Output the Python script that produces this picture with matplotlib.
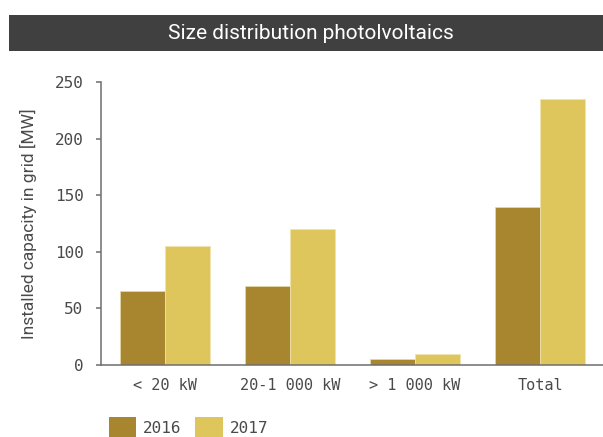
import matplotlib
matplotlib.use("Agg")
import matplotlib.pyplot as plt
from matplotlib.patches import Rectangle, Patch
import numpy as np

categories = ["< 20 kW", "20-1 000 kW", "> 1 000 kW", "Total"]
years = ["2016", "2017"]
values_2016 = [65, 70, 5, 140]
values_2017 = [105, 120, 10, 235]
yticks = [0, 50, 100, 150, 200, 250]

title = "Size distribution photolvoltaics"
ylabel = "Installed capacity in grid [MW]"

c2016 = "#a8862f"
c2017 = "#dec55c"
text_col = "#4a4a4a"
axis_col = "#6e6e6e"

W, H = 603, 437
fig = plt.figure(figsize=(W / 100, H / 100), dpi=100)

sans = ["Roboto", "DejaVu Sans"]
mono = ["DejaVu Sans Mono", "DejaVu Sans"]

# dark title band
fig.patches.append(Rectangle((9 / W, 1 - 50.7 / H), 1 - 9 / W, 35.7 / H,
                             transform=fig.transFigure, facecolor="#404040",
                             edgecolor="none", zorder=0))
fig.text(311 / W, 1 - 33.5 / H, title, color="white", ha="center",
         va="center", fontsize=15, family=sans)

ax = fig.add_axes([101 / W, (H - 365) / H, (W - 101) / W, (365 - 82) / H])

x = np.arange(len(categories))
bw = 0.36
ax.bar(x - bw / 2, values_2016, bw, color=c2016, edgecolor="#e9dca8",
       linewidth=0.5, label=years[0])
ax.bar(x + bw / 2, values_2017, bw, color=c2017, edgecolor="#efe3b0",
       linewidth=0.5, label=years[1])

ax.set_xlim(-0.512, 3.504)
ax.set_ylim(0, 250)
ax.set_yticks(yticks)
ax.set_xticks(x)
ax.set_xticklabels(categories, family=mono, fontsize=11, color=text_col)
for lab in ax.get_yticklabels():
    lab.set_family(mono)
    lab.set_fontsize(11.5)
    lab.set_color(text_col)

for s in ["top", "right"]:
    ax.spines[s].set_visible(False)
for s in ["left", "bottom"]:
    ax.spines[s].set_color(axis_col)
    ax.spines[s].set_linewidth(1.1)

ax.tick_params(axis="y", length=3.6, width=1.1, color=axis_col, pad=9)
ax.tick_params(axis="x", length=0, pad=9)

ax.set_ylabel(ylabel, family=sans, fontsize=12.5, color=text_col, va="center")
ax.yaxis.set_label_coords(-(101 - 28) / (W - 101), 0.5)

handles = [Patch(facecolor=c2016, edgecolor="none"),
           Patch(facecolor=c2017, edgecolor="none")]
leg = fig.legend(handles, years, loc="upper left",
                 bbox_to_anchor=(109 / W, 1 - 417 / H),
                 ncol=2, frameon=False, borderpad=0, borderaxespad=0,
                 handlelength=1.7, handleheight=1.7, handletextpad=0.45,
                 columnspacing=0.85, prop={"family": "DejaVu Sans Mono", "size": 11.5})
for t in leg.get_texts():
    t.set_color(text_col)

fig.savefig("out.png", dpi=100)
